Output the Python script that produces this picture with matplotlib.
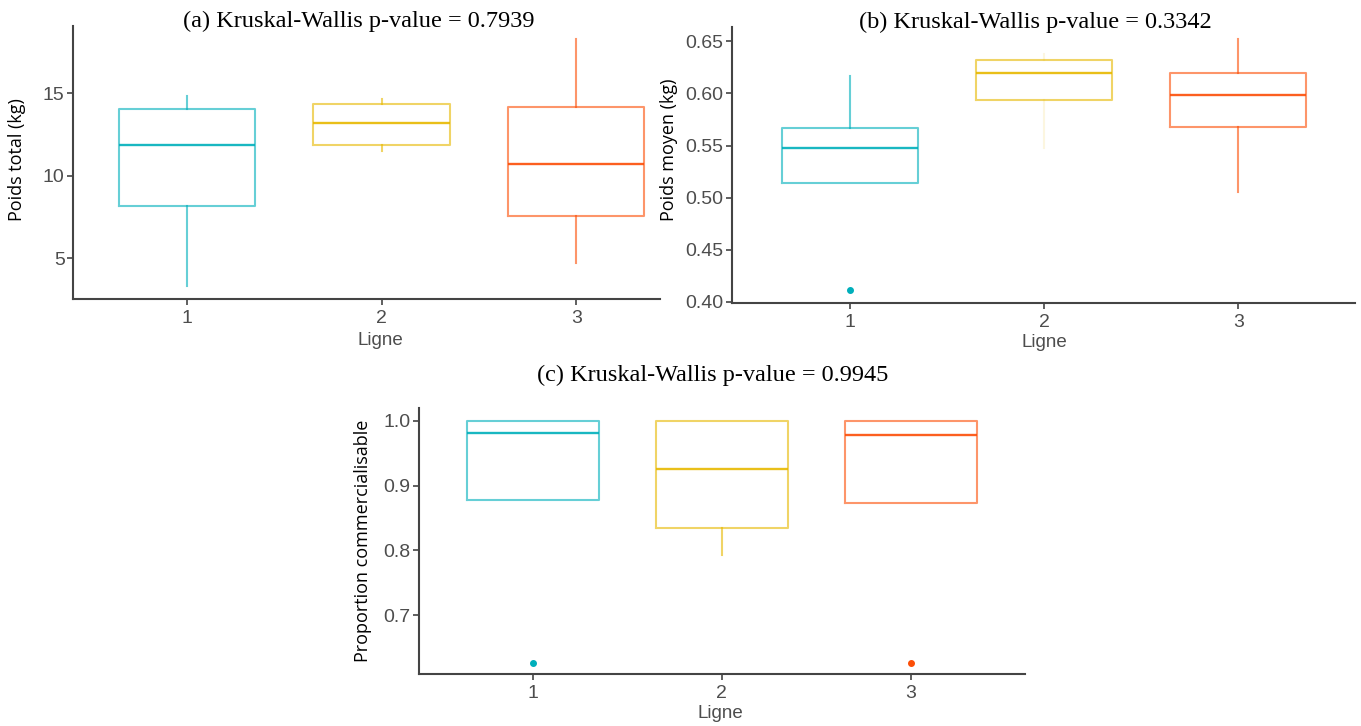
import matplotlib
matplotlib.use("Agg")
import matplotlib.pyplot as plt

W, H = 1361, 726

LIGNES = ["1", "2", "3"]
COLORS = ["#00AFBB", "#E7B800", "#FC4E07"]

# (a) Poids total (kg)
a_q1 = [8.19, 11.89, 7.59]
a_med = [11.85, 13.18, 10.72]
a_q3 = [14.03, 14.33, 14.15]
a_lo = [3.32, 11.53, 4.70]
a_hi = [14.86, 14.68, 18.29]
a_out = [[], [], []]

# (b) Poids moyen (kg)
b_q1 = [0.5137, 0.5936, 0.5675]
b_med = [0.5475, 0.6200, 0.5984]
b_q3 = [0.5666, 0.6320, 0.6197]
b_lo = [0.5137, 0.5480, 0.5054]
b_hi = [0.6170, 0.6380, 0.6522]
b_out = [[0.4115], [], []]

# (c) Proportion commercialisable
c_q1 = [0.8773, 0.8350, 0.8727]
c_med = [0.9814, 0.9253, 0.9784]
c_q3 = [1.0, 1.0, 1.0]
c_lo = [0.8773, 0.7928, 0.8727]
c_hi = [1.0, 1.0, 1.0]
c_out = [[0.6263], [], [0.6260]]

TICK_GREY = "#4D4D4D"
SPINE = "#444444"

plt.rcParams["font.family"] = ["Liberation Sans", "DejaVu Sans"]


def px_axes(fig, x0, y0, x1, y1):
    # pixel box (top-left origin) -> figure axes
    return fig.add_axes([x0 / W, 1 - y1 / H, (x1 - x0) / W, (y1 - y0) / H])


def draw_panel(ax, q1, med, q3, lo, hi, out, faint=()):
    stats = []
    for i in range(len(LIGNES)):
        stats.append({"q1": q1[i], "med": med[i], "q3": q3[i],
                      "whislo": lo[i], "whishi": hi[i], "fliers": out[i]})
    res = ax.bxp(stats, positions=[1, 2, 3], widths=0.7, showcaps=False,
                 patch_artist=False)
    for i, c in enumerate(COLORS):
        res["boxes"][i].set(color=c, alpha=0.6, linewidth=1.5)
        res["medians"][i].set(color=c, alpha=0.9, linewidth=1.7)
        for w in res["whiskers"][2 * i:2 * i + 2]:
            w.set(color=c, alpha=0.12 if i in faint else 0.6, linewidth=1.5)
        res["fliers"][i].set(marker="o", markerfacecolor=c, markeredgecolor=c,
                             markersize=4)
    ax.set_xticks([1, 2, 3])
    ax.set_xticklabels(LIGNES)
    for s in ["top", "right"]:
        ax.spines[s].set_visible(False)
    for s in ["left", "bottom"]:
        ax.spines[s].set_color(SPINE)
        ax.spines[s].set_linewidth(1.5)
    ax.tick_params(colors=SPINE, labelcolor=TICK_GREY, labelsize=14,
                   length=4, width=1.2)
    ax.tick_params(axis="x", pad=4)
    ax.tick_params(axis="y", pad=2)


fig = plt.figure(figsize=(W / 100, H / 100), dpi=100)
fig.patch.set_facecolor("white")

# panel (a)
ax_a = px_axes(fig, 73, 26, 660, 299)
draw_panel(ax_a, a_q1, a_med, a_q3, a_lo, a_hi, a_out)
ax_a.set_xlim(0.415, 3.43)
ax_a.set_ylim(2.54, 19.08)
ax_a.set_yticks([5, 10, 15])

# panel (b)
ax_b = px_axes(fig, 732, 27, 1355, 302.5)
draw_panel(ax_b, b_q1, b_med, b_q3, b_lo, b_hi, b_out, faint=(1,))
ax_b.set_xlim(0.393, 3.60)
ax_b.set_ylim(0.3995, 0.6637)
ax_b.set_yticks([0.40, 0.45, 0.50, 0.55, 0.60, 0.65])
ax_b.set_yticklabels(["0.40", "0.45", "0.50", "0.55", "0.60", "0.65"])

# panel (c)
ax_c = px_axes(fig, 418.6, 408.3, 1025.4, 674)
draw_panel(ax_c, c_q1, c_med, c_q3, c_lo, c_hi, c_out)
ax_c.set_xlim(0.396, 3.606)
ax_c.set_ylim(0.6088, 1.0196)
ax_c.set_yticks([0.7, 0.8, 0.9, 1.0])
ax_c.set_yticklabels(["0.7", "0.8", "0.9", "1.0"])

# titles
title_kw = dict(family="Liberation Serif", fontsize=17.5, ha="center", va="center")
fig.text(359 / W, 1 - 21 / H, "(a) Kruskal-Wallis p-value = 0.7939", **title_kw)
fig.text(1035 / W, 1 - 22 / H, "(b) Kruskal-Wallis p-value = 0.3342", **title_kw)
fig.text(713 / W, 1 - 375 / H, "(c) Kruskal-Wallis p-value = 0.9945", **title_kw)

# y labels
ylab_kw = dict(family="Open Sans", fontsize=13, color="black", rotation=90,
               ha="center", va="center")
fig.text(17 / W, 1 - 160 / H, "Poids total (kg)", **ylab_kw)
fig.text(669 / W, 1 - 150 / H, "Poids moyen (kg)", **ylab_kw)
fig.text(363 / W, 1 - 541 / H, "Proportion commercialisable", **ylab_kw)

# x labels
xlab_kw = dict(fontsize=13.5, color=TICK_GREY, ha="center", va="center")
fig.text(380 / W, 1 - 340 / H, "Ligne", **xlab_kw)
fig.text(1044 / W, 1 - 343 / H, "Ligne", **xlab_kw)
fig.text(720 / W, 1 - 713 / H, "Ligne", **xlab_kw)

fig.savefig("out.png", dpi=100)
